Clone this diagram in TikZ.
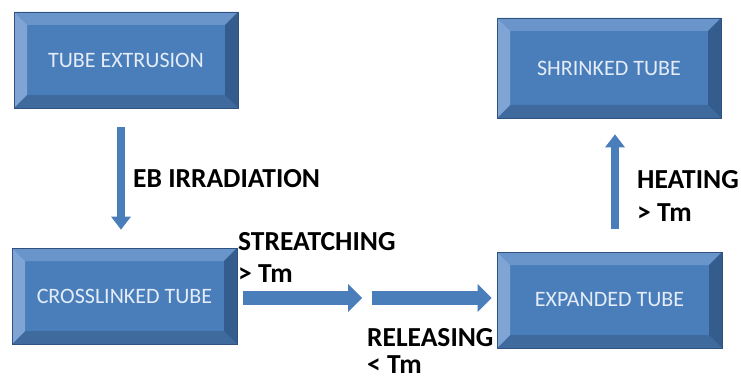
\documentclass[tikz,border=0pt]{standalone}
\usepackage{fontspec}
\setmainfont{Carlito}
\usetikzlibrary{arrows.meta}
\definecolor{boxmain}{HTML}{4A7EBB}
\definecolor{bvtop}{HTML}{6A95CB}
\definecolor{bvleft}{HTML}{80A5D5}
\definecolor{bvright}{HTML}{345C8C}
\definecolor{bvbottom}{HTML}{3E6A9E}
\definecolor{boxline}{HTML}{2F527F}
\definecolor{boxtext}{HTML}{E3ECF7}
\definecolor{arrowblue}{HTML}{4A7EBB}
\tikzset{
  bevelbox/.style={
    draw=boxline, line width=0.8pt, fill=boxmain, inner sep=0pt,
    text=boxtext, font=\fontsize{22}{26}\selectfont,
    path picture={
      \coordinate (NW) at (path picture bounding box.north west);
      \coordinate (NE) at (path picture bounding box.north east);
      \coordinate (SW) at (path picture bounding box.south west);
      \coordinate (SE) at (path picture bounding box.south east);
      \fill[bvtop] (NW) -- (NE) -- ([shift={(-13pt,-13pt)}]NE) -- ([shift={(13pt,-13pt)}]NW) -- cycle;
      \fill[bvbottom] (SW) -- (SE) -- ([shift={(-13pt,13pt)}]SE) -- ([shift={(13pt,13pt)}]SW) -- cycle;
      \fill[bvleft] (NW) -- (SW) -- ([shift={(13pt,13pt)}]SW) -- ([shift={(13pt,-13pt)}]NW) -- cycle;
      \fill[bvright] (NE) -- (SE) -- ([shift={(-13pt,13pt)}]SE) -- ([shift={(-13pt,-13pt)}]NE) -- cycle;
    }
  },
  thinarrow/.style={draw=arrowblue, line width=8pt,
    -{Triangle[width=20pt,length=13pt,line width=0pt]}},
  widearrow/.style={draw=arrowblue, line width=14pt,
    -{Triangle[width=28pt,length=14pt,line width=0pt]}},
  lbl/.style={anchor=base west, inner sep=0pt, text=black,
    font=\fontsize{27.5}{33}\selectfont\bfseries}
}
\begin{document}
\begin{tikzpicture}[x=1pt,y=-1pt]
  \useasboundingbox (0,0) rectangle (741,382);
  % boxes
  \node[bevelbox, minimum width=224pt, minimum height=96pt] (ext) at (126,60) {TUBE EXTRUSION};
  \node[bevelbox, minimum width=225pt, minimum height=96pt] (cross) at (124.5,296) {CROSSLINKED TUBE};
  \node[bevelbox, minimum width=225pt, minimum height=96pt] (exp) at (609.5,300) {EXPANDED TUBE};
  \node[bevelbox, minimum width=224pt, minimum height=100pt] (shr) at (609,68) {SHRINKED TUBE};
  % connectors
  \draw[thinarrow] ([xshift=-5pt,yshift=-19pt]ext.south) -- ([xshift=-3.5pt,yshift=18pt]cross.north);
  \coordinate (m1) at (362,298);
  \coordinate (m2) at (372,298);
  \draw[widearrow] ([xshift=6pt,yshift=-2pt]cross.east) -- (m1);
  \draw[widearrow] (m2) -- ([xshift=-5pt,yshift=2pt]exp.west);
  \draw[thinarrow] ([xshift=5.5pt,yshift=23pt]exp.north) -- ([xshift=6pt,yshift=-16pt]shr.south);
  % labels
  \node[lbl] (eb) at (133,188) {EB IRRADIATION};
  \node[lbl] (st1) at (238,250) {STREATCHING};
  \node[lbl] (st2) at (238,282) {> Tm};
  \node[lbl] (rel1) at (367,346) {RELEASING};
  \node[lbl] (rel2) at (367,373) {< Tm};
  \node[lbl] (heat1) at (637,189) {HEATING};
  \node[lbl] (heat2) at (637,222) {> Tm};
\end{tikzpicture}
\end{document}
